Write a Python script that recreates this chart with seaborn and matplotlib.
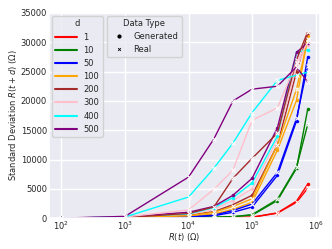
import numpy as np
import pandas as pd
import matplotlib
matplotlib.use("Agg")
import matplotlib.pyplot as plt
import seaborn as sns
from matplotlib.lines import Line2D

r_t = [100, 1000, 10000, 25000, 50000, 100000, 250000, 500000, 750000]
d_values = [1, 10, 50, 100, 200, 300, 400, 500]
colors = ["red", "green", "blue", "orange", "brown", "pink", "cyan", "purple"]

gen_1 = [0, 20, 40, 60, 80, 150, 900, 2900, 5800]
real_1 = [0, 20, 40, 60, 80, 150, 850, 2700, 5100]
gen_10 = [0, 30, 80, 150, 250, 500, 3000, 8500, 18600]
real_10 = [0, 30, 80, 150, 250, 600, 3200, 8700, 16000]
gen_50 = [0, 50, 150, 400, 1000, 1900, 7300, 16600, 27500]
real_50 = [0, 50, 200, 500, 1300, 2400, 7800, 17000, 26000]
gen_100 = [0, 60, 300, 700, 1500, 2700, 11600, 20100, 31000]
real_100 = [0, 60, 400, 1000, 2000, 3300, 12500, 22000, 30500]
gen_200 = [0, 100, 500, 1100, 2300, 3900, 12500, 25000, 31500]
real_200 = [0, 100, 800, 1900, 6800, 10200, 14500, 27000, 31800]
gen_300 = [0, 150, 600, 1500, 3000, 5000, 13500, 26000, 29500]
real_300 = [0, 200, 1400, 4900, 8200, 16700, 18800, 26500, 30000]
gen_400 = [0, 150, 700, 1800, 3500, 6000, 14000, 28300, 28700]
real_400 = [0, 200, 3600, 8500, 12800, 18000, 23500, 24400, 24900]
gen_500 = [0, 200, 1000, 2000, 3900, 6800, 15400, 28300, 29900]
real_500 = [0, 300, 7000, 13500, 20000, 22000, 22500, 25800, 23200]

generated = [gen_1, gen_10, gen_50, gen_100, gen_200, gen_300, gen_400, gen_500]
real = [real_1, real_10, real_50, real_100, real_200, real_300, real_400, real_500]

rows = []
for d, g, r in zip(d_values, generated, real):
    for x, v in zip(r_t, g):
        rows.append({"R": x, "std": v, "d": d, "Data Type": "Generated"})
    for x, v in zip(r_t, r):
        rows.append({"R": x, "std": v, "d": d, "Data Type": "Real"})
df = pd.DataFrame(rows)

sns.set_theme(style="darkgrid")
plt.rcParams["font.family"] = ["DejaVu Sans"]
plt.rcParams["xtick.major.size"] = 0
plt.rcParams["ytick.major.size"] = 0
fs = 6.0

fig = plt.figure(figsize=(3.32, 2.49), dpi=100)
ax = fig.add_axes([0.148, 0.124, 0.816, 0.824])

palette = dict(zip(d_values, colors))
sns.lineplot(data=df[df["Data Type"] == "Generated"], x="R", y="std", hue="d",
             palette=palette, marker="o", linewidth=1.0, markersize=2.5,
             markeredgewidth=0, legend=False, ax=ax)
sns.lineplot(data=df[df["Data Type"] == "Real"], x="R", y="std", hue="d",
             palette=palette, marker="x", linewidth=1.0, markersize=2.5,
             markeredgewidth=0.8, legend=False, ax=ax)

ax.set_xscale("log")
ax.set_ylim(0, 35000)
ax.set_xlabel("$R(t)$ (Ω)", fontsize=fs, labelpad=-0.5)
ax.set_ylabel("Standard Deviation $R(t + d)$ (Ω)", fontsize=fs, labelpad=1.5)
ax.tick_params(axis="y", which="both", labelsize=fs, pad=1.5, length=0)
ax.tick_params(axis="x", which="both", labelsize=fs, pad=0.8, length=0)
ax.minorticks_off()
ax.xaxis.set_major_locator(matplotlib.ticker.LogLocator(base=10, numticks=10))

h1 = [Line2D([0], [0], color=c, lw=1.5) for c in colors]
leg1 = ax.legend(h1, [str(d) for d in d_values], title="d", loc="upper left",
                 bbox_to_anchor=(0.01, 0.985), borderaxespad=0, fontsize=fs,
                 title_fontsize=fs, handlelength=2.6, labelspacing=0.5,
                 borderpad=0.4)
ax.add_artist(leg1)
h2 = [Line2D([0], [0], color="black", marker="o", ls="", markersize=2),
      Line2D([0], [0], color="black", marker="x", ls="", markersize=2, markeredgewidth=0.6)]
ax.legend(h2, ["Generated", "Real"], title="Data Type", loc="upper left",
          bbox_to_anchor=(0.213, 0.985), borderaxespad=0, fontsize=fs,
          title_fontsize=fs, labelspacing=0.45, borderpad=0.4)

fig.savefig("out.png", dpi=100)
